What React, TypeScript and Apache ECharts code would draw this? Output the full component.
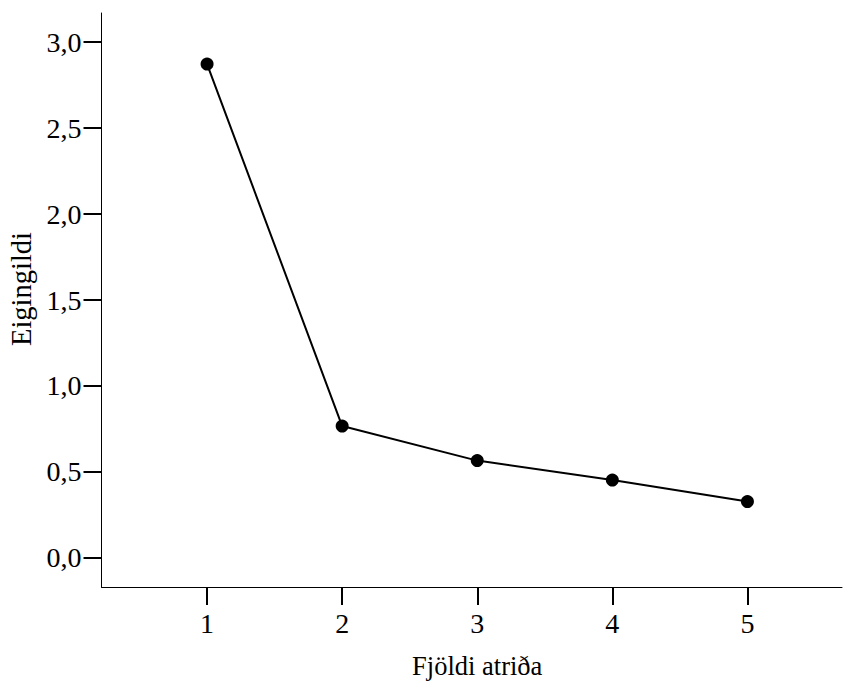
import React, { useEffect, useRef } from "react";
import * as echarts from "echarts";

const xValues = [1, 2, 3, 4, 5];
const eigenValues = [2.872, 0.767, 0.566, 0.453, 0.328];
const yTicks = [0, 0.5, 1.0, 1.5, 2.0, 2.5, 3.0];
const xTicks = [1, 2, 3, 4, 5];
const xTitle = "Fjöldi atriða";
const yTitle = "Eigingildi";

const FONT = "'Liberation Serif', 'Times New Roman', serif";

export default function App() {
  const ref = useRef<HTMLDivElement>(null);
  useEffect(() => {
    if (!ref.current) return;
    const chart = echarts.init(ref.current, undefined, { renderer: "svg" });
    chart.setOption({
      animation: false,
      backgroundColor: "#ffffff",
      grid: {
        left: 101.5,
        right: 1,
        top: 13,
        bottom: 94,
        containLabel: false,
        outerBoundsMode: "none",
      },
      xAxis: {
        type: "value",
        min: 0.2185,
        max: 5.7,
        name: xTitle,
        nameLocation: "middle",
        nameGap: 65,
        nameTextStyle: { fontFamily: FONT, fontSize: 26.5, color: "#000", padding: [0, 0, 0, 11] },
        axisLine: { show: true, onZero: false, lineStyle: { color: "#000", width: 1 } },
        axisTick: {
          show: true,
          length: 18,
          inside: false,
          customValues: xTicks,
          lineStyle: { color: "#000", width: 2 },
        },
        axisLabel: {
          show: true,
          margin: 22,
          customValues: xTicks,
          fontFamily: FONT,
          fontSize: 28,
          color: "#000",
          formatter: (v: number) => String(v),
        },
        splitLine: { show: false },
      },
      yAxis: {
        type: "value",
        min: -0.169,
        max: 3.169,
        name: yTitle,
        nameLocation: "middle",
        nameGap: 62,
        nameRotate: 90,
        nameTextStyle: { fontFamily: FONT, fontSize: 28.5, color: "#000", padding: [0, 0, 0, 22] },
        axisLine: { show: true, onZero: false, lineStyle: { color: "#000", width: 1 } },
        axisTick: {
          show: true,
          length: 18,
          inside: false,
          customValues: yTicks,
          lineStyle: { color: "#000", width: 2 },
        },
        axisLabel: {
          show: true,
          margin: 20,
          customValues: yTicks,
          fontFamily: FONT,
          fontSize: 28,
          color: "#000",
          formatter: (v: number) => v.toFixed(1).replace(".", ","),
        },
        splitLine: { show: false },
      },
      series: [
        {
          type: "line",
          data: xValues.map((x, i) => [x, eigenValues[i]]),
          symbol: "circle",
          symbolSize: 13,
          lineStyle: { color: "#000", width: 2 },
          itemStyle: { color: "#000" },
          silent: true,
        },
      ],
    });
    return () => chart.dispose();
  }, []);
  return (
    <div
      ref={ref}
      style={{ position: "absolute", left: 0, top: 0, width: 843, height: 681 }}
    />
  );
}
